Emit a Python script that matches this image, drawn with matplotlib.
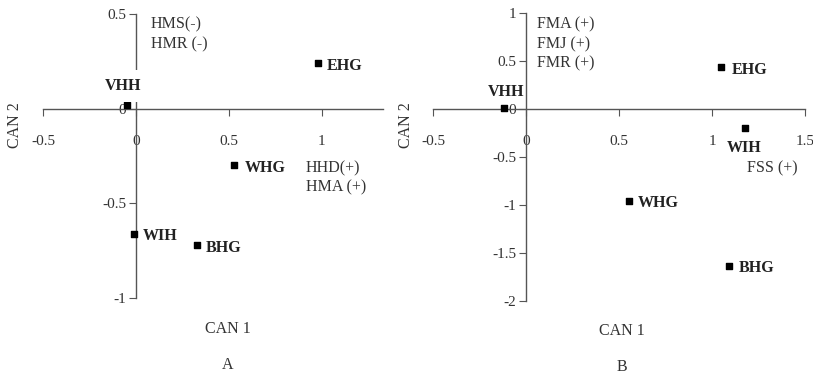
import matplotlib.pyplot as plt
import numpy as np

plt.rcParams['font.family'] = ['Liberation Serif', 'DejaVu Serif']

sites_a = ['VHH', 'EHG', 'WHG', 'WIH', 'BHG']
can1_a = [-0.05, 0.98, 0.53, -0.01, 0.33]
can2_a = [0.02, 0.24, -0.30, -0.66, -0.72]

sites_b = ['VHH', 'EHG', 'WIH', 'WHG', 'BHG']
can1_b = [-0.12, 1.05, 1.18, 0.555, 1.09]
can2_b = [0.01, 0.44, -0.20, -0.96, -1.64]

vars_a = [('HMS(-)', 0.08, 0.447), ('HMR (-)', 0.08, 0.342),
          ('HHD(+)', 0.914, -0.316), ('HMA (+)', 0.914, -0.416)]
vars_b = [('FMA (+)', 0.06, 0.885), ('FMJ (+)', 0.06, 0.677),
          ('FMR (+)', 0.06, 0.479), ('FSS (+)', 1.19, -0.615)]

# label offsets in pixels (dx, dy, ha)
offs_a = {'VHH': (-4, 19, 'center'), 'EHG': (9, -3, 'left'), 'WHG': (10, -3, 'left'),
          'WIH': (9, -2, 'left'), 'BHG': (9, -3, 'left')}
offs_b = {'VHH': (2, 16, 'center'), 'EHG': (10, -3, 'left'), 'WIH': (-1, -20, 'center'),
          'WHG': (9, -2, 'left'), 'BHG': (10, -2, 'left')}

W, H = 813, 382
fig = plt.figure(figsize=(W / 100, H / 100), dpi=100)

gray = '#555555'
tcol = '#333333'


def make_ax(px, py, xlim, ylim, xticks, yticks):
    ax = fig.add_axes([px[0] / W, (H - py[1]) / H, (px[1] - px[0]) / W, (py[1] - py[0]) / H])
    ax.set_xlim(*xlim)
    ax.set_ylim(*ylim)
    for s in ['top', 'right']:
        ax.spines[s].set_visible(False)
    ax.spines['left'].set_position(('data', 0))
    ax.spines['bottom'].set_position(('data', 0))
    for s in ['left', 'bottom']:
        ax.spines[s].set_color(gray)
        ax.spines[s].set_linewidth(1.0)
    ax.set_xticks(xticks)
    ax.set_yticks(yticks)
    ax.set_xticklabels(['%g' % t for t in xticks])
    ax.set_yticklabels(['%g' % t for t in yticks])
    ax.tick_params(axis='x', direction='out', length=5, pad=14, labelsize=11,
                   color=gray, labelcolor=tcol)
    ax.tick_params(axis='y', direction='out', length=5, pad=2, labelsize=11,
                   color=gray, labelcolor=tcol)
    ax.patch.set_alpha(0)
    return ax


def draw(ax, sites, xs, ys, offs, vars_, vhh_box):
    ax.scatter(xs, ys, marker='s', s=16, color='black', zorder=3, clip_on=False)
    for name, x, y in zip(sites, xs, ys):
        dx, dy, ha = offs[name]
        kw = {}
        if name == 'VHH' and vhh_box:
            kw['bbox'] = dict(facecolor='white', edgecolor='none', pad=6)
        ax.annotate(name, (x, y), xytext=(dx, dy), textcoords='offset pixels',
                    ha=ha, va='center', fontsize=11.5, fontweight='bold',
                    color='#222222', zorder=4, **kw)
    for txt, x, y in vars_:
        ax.text(x, y, txt, ha='left', va='center', fontsize=11.5, color=tcol)


ax_a = make_ax((43, 383), (14, 298), (-0.5, 1.33), (-1, 0.5),
               [-0.5, 0, 0.5, 1], [-1, -0.5, 0, 0.5])
draw(ax_a, sites_a, can1_a, can2_a, offs_a, vars_a, True)

ax_b = make_ax((433, 805), (13, 301), (-0.5, 1.5), (-2, 1),
               [-0.5, 0, 0.5, 1, 1.5], [-2, -1.5, -1, -0.5, 0, 0.5, 1])
draw(ax_b, sites_b, can1_b, can2_b, offs_b, vars_b, False)

for cx, cy, cap, lab in [(228, 329, 'CAN 1', 'A'), (622, 331, 'CAN 1', 'B')]:
    fig.text(cx / W, 1 - cy / H, cap, ha='center', va='center', fontsize=11.5, color=tcol)
    fig.text(cx / W, 1 - (cy + 36) / H, lab, ha='center', va='center', fontsize=11.5, color=tcol)

for cx in [15, 406]:
    fig.text(cx / W, 1 - 125 / H, 'CAN 2', ha='center', va='center', rotation=90,
             fontsize=11.5, color=tcol)

fig.savefig('out.png', dpi=100)
